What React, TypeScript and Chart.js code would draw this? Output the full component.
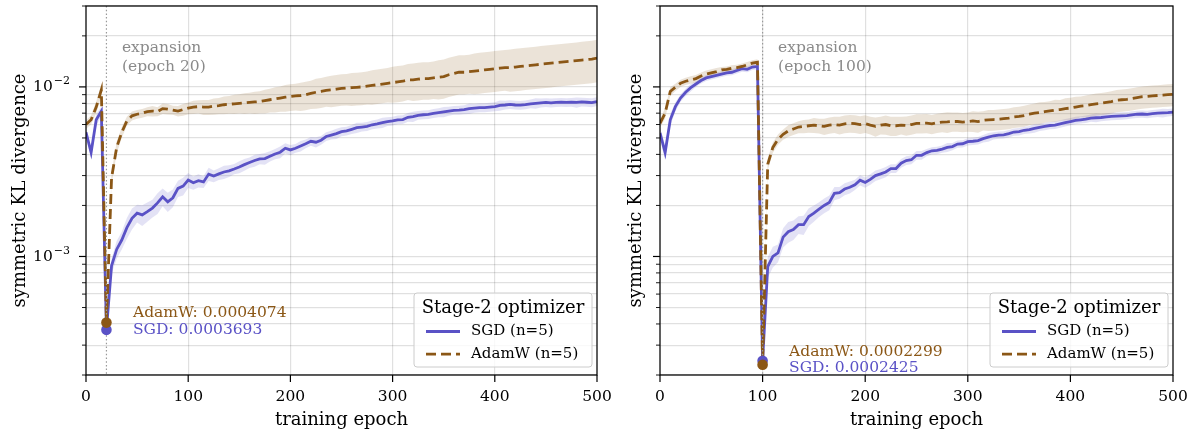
import React, { useEffect, useRef } from "react";
import { Chart, registerables } from "chart.js";

Chart.register(...registerables);

const FONT = "'DejaVu Serif', serif";
const SGD_COLOR = "#5a52c6";
const ADAM_COLOR = "#8b5716";
const SGD_BAND = "rgba(90,82,198,0.17)";
const ADAM_BAND = "rgba(139,87,22,0.17)";
const GRID = "rgba(0,0,0,0.12)";

const EPOCHS = [
  0, 5, 10, 15, 20, 25, 30, 35, 40, 45,
  50, 55, 60, 65, 70, 75, 80, 85, 90, 95,
  100, 105, 110, 115, 120, 125, 130, 135, 140, 145,
  150, 155, 160, 165, 170, 175, 180, 185, 190, 195,
  200, 205, 210, 215, 220, 225, 230, 235, 240, 245,
  250, 255, 260, 265, 270, 275, 280, 285, 290, 295,
  300, 305, 310, 315, 320, 325, 330, 335, 340, 345,
  350, 355, 360, 365, 370, 375, 380, 385, 390, 395,
  400, 405, 410, 415, 420, 425, 430, 435, 440, 445,
  450, 455, 460, 465, 470, 475, 480, 485, 490, 495,
  500,
];

const X_TICKS = [0, 100, 200, 300, 400, 500];
const Y_TICKS = [
  2e-4, 3e-4, 4e-4, 5e-4, 6e-4, 7e-4, 8e-4, 9e-4,
  1e-3, 2e-3, 3e-3, 4e-3, 5e-3, 6e-3, 7e-3, 8e-3, 9e-3,
  1e-2, 2e-2, 3e-2,
];
// major y ticks: value, base text, exponent text
const Y_MAJOR_LABELS: [number, string, string][] = [
  [1e-3, "10", "\u22123"],
  [1e-2, "10", "\u22122"],
];
const Y_MIN = 2e-4;
const Y_MAX = 3e-2;

// ---------- left panel (expansion at epoch 20) ----------
const L_SGD = [
  5.4e-3, 4.1e-3, 6.4e-3, 7.2e-3, 3.693e-4, 8.8e-4, 1.1e-3, 1.25e-3, 1.48e-3, 1.68e-3,
  1.8e-3, 1.76e-3, 1.84e-3, 1.93e-3, 2.07e-3, 2.25e-3, 2.1e-3, 2.22e-3, 2.52e-3, 2.6e-3,
  2.82e-3, 2.72e-3, 2.8e-3, 2.75e-3, 3.06e-3, 2.98e-3, 3.07e-3, 3.15e-3, 3.2e-3, 3.28e-3,
  3.37e-3, 3.48e-3, 3.58e-3, 3.68e-3, 3.76e-3, 3.78e-3, 3.9e-3, 4.02e-3, 4.12e-3, 4.35e-3,
  4.25e-3, 4.35e-3, 4.48e-3, 4.62e-3, 4.78e-3, 4.72e-3, 4.85e-3, 5.1e-3, 5.2e-3, 5.3e-3,
  5.45e-3, 5.5e-3, 5.62e-3, 5.75e-3, 5.8e-3, 5.85e-3, 5.98e-3, 6.05e-3, 6.15e-3, 6.25e-3,
  6.3e-3, 6.4e-3, 6.42e-3, 6.62e-3, 6.68e-3, 6.8e-3, 6.85e-3, 6.88e-3, 6.98e-3, 7.05e-3,
  7.12e-3, 7.2e-3, 7.28e-3, 7.3e-3, 7.35e-3, 7.45e-3, 7.5e-3, 7.55e-3, 7.55e-3, 7.6e-3,
  7.65e-3, 7.78e-3, 7.82e-3, 7.88e-3, 7.82e-3, 7.8e-3, 7.85e-3, 7.95e-3, 8.0e-3, 8.05e-3,
  8.1e-3, 8.05e-3, 8.1e-3, 8.12e-3, 8.1e-3, 8.12e-3, 8.1e-3, 8.15e-3, 8.12e-3, 8.08e-3,
  8.2e-3,
];
const L_ADAM = [
  6.0e-3, 6.4e-3, 7.6e-3, 9.6e-3, 4.074e-4, 2.9e-3, 4.4e-3, 5.4e-3, 6.3e-3, 6.75e-3,
  6.9e-3, 7.0e-3, 7.15e-3, 7.2e-3, 7.15e-3, 7.45e-3, 7.4e-3, 7.3e-3, 7.2e-3, 7.35e-3,
  7.5e-3, 7.6e-3, 7.65e-3, 7.6e-3, 7.6e-3, 7.7e-3, 7.75e-3, 7.85e-3, 7.9e-3, 7.95e-3,
  8.0e-3, 8.05e-3, 8.1e-3, 8.15e-3, 8.2e-3, 8.3e-3, 8.4e-3, 8.5e-3, 8.6e-3, 8.7e-3,
  8.78e-3, 8.85e-3, 8.9e-3, 9.0e-3, 9.15e-3, 9.3e-3, 9.4e-3, 9.55e-3, 9.6e-3, 9.7e-3,
  9.8e-3, 9.85e-3, 9.9e-3, 9.95e-3, 1.0e-2, 1.01e-2, 1.02e-2, 1.03e-2, 1.04e-2, 1.05e-2,
  1.06e-2, 1.07e-2, 1.08e-2, 1.1e-2, 1.1e-2, 1.11e-2, 1.12e-2, 1.12e-2, 1.13e-2, 1.14e-2,
  1.15e-2, 1.18e-2, 1.2e-2, 1.22e-2, 1.22e-2, 1.23e-2, 1.24e-2, 1.25e-2, 1.26e-2, 1.27e-2,
  1.28e-2, 1.29e-2, 1.3e-2, 1.3e-2, 1.31e-2, 1.32e-2, 1.33e-2, 1.34e-2, 1.35e-2, 1.36e-2,
  1.37e-2, 1.38e-2, 1.39e-2, 1.4e-2, 1.41e-2, 1.42e-2, 1.43e-2, 1.44e-2, 1.45e-2, 1.46e-2,
  1.48e-2,
];
// band half-width, percent of the mean
const L_SGD_SPREAD = [
  6, 8, 8, 6, 3, 10, 12, 12, 14, 14,
  12, 14, 13, 12, 14, 12, 13, 12, 11, 12,
  10, 9, 9, 8, 9, 8, 8, 9, 8, 7,
  8, 8, 7, 8, 7, 8, 7, 7, 8, 7,
  7, 6, 7, 6, 6, 7, 6, 6, 6, 7,
  6, 6, 6, 7, 6, 6, 6, 6, 7, 6,
  6, 6, 6, 6, 7, 6, 6, 6, 6, 6,
  7, 6, 6, 6, 6, 7, 6, 6, 6, 6,
  6, 7, 6, 6, 6, 6, 6, 6, 7, 6,
  6, 6, 6, 6, 6, 6, 7, 6, 6, 6,
  6,
];
const L_ADAM_SPREAD = [
  6, 6, 8, 8, 3, 8, 8, 7, 6, 6,
  6, 6, 6, 7, 6, 7, 7, 6, 7, 8,
  8, 9, 9, 10, 10, 11, 11, 12, 12, 13,
  13, 14, 14, 15, 15, 16, 16, 17, 17, 18,
  18, 18, 19, 19, 19, 20, 20, 20, 21, 21,
  21, 21, 22, 22, 22, 22, 23, 23, 23, 23,
  24, 24, 24, 24, 25, 25, 25, 25, 25, 26,
  26, 26, 26, 26, 26, 26, 27, 27, 27, 27,
  27, 27, 27, 28, 28, 28, 28, 28, 28, 28,
  28, 28, 28, 28, 28, 28, 28, 28, 28, 28,
  28,
];

// ---------- right panel (expansion at epoch 100) ----------
const R_SGD = [
  5.35e-3, 4.1e-3, 6.4e-3, 7.65e-3, 8.6e-3, 9.3e-3, 9.9e-3, 1.04e-2, 1.09e-2, 1.13e-2,
  1.15e-2, 1.17e-2, 1.19e-2, 1.21e-2, 1.22e-2, 1.25e-2, 1.28e-2, 1.27e-2, 1.31e-2, 1.32e-2,
  2.425e-4, 8.7e-4, 1.0e-3, 1.05e-3, 1.3e-3, 1.4e-3, 1.44e-3, 1.54e-3, 1.54e-3, 1.72e-3,
  1.8e-3, 1.9e-3, 2.0e-3, 2.08e-3, 2.36e-3, 2.38e-3, 2.5e-3, 2.56e-3, 2.65e-3, 2.82e-3,
  2.73e-3, 2.85e-3, 3.0e-3, 3.07e-3, 3.15e-3, 3.3e-3, 3.3e-3, 3.55e-3, 3.68e-3, 3.72e-3,
  3.95e-3, 3.95e-3, 4.1e-3, 4.2e-3, 4.22e-3, 4.3e-3, 4.4e-3, 4.45e-3, 4.6e-3, 4.62e-3,
  4.75e-3, 4.78e-3, 4.82e-3, 4.95e-3, 5.05e-3, 5.15e-3, 5.2e-3, 5.22e-3, 5.3e-3, 5.42e-3,
  5.45e-3, 5.55e-3, 5.6e-3, 5.7e-3, 5.78e-3, 5.85e-3, 5.92e-3, 5.95e-3, 6.05e-3, 6.15e-3,
  6.25e-3, 6.35e-3, 6.4e-3, 6.45e-3, 6.55e-3, 6.58e-3, 6.6e-3, 6.65e-3, 6.7e-3, 6.72e-3,
  6.75e-3, 6.78e-3, 6.85e-3, 6.9e-3, 6.92e-3, 6.88e-3, 6.95e-3, 7.0e-3, 7.02e-3, 7.05e-3,
  7.1e-3,
];
const R_ADAM = [
  6.1e-3, 7.0e-3, 9.4e-3, 9.95e-3, 1.05e-2, 1.08e-2, 1.1e-2, 1.12e-2, 1.16e-2, 1.19e-2,
  1.21e-2, 1.23e-2, 1.26e-2, 1.27e-2, 1.29e-2, 1.3e-2, 1.32e-2, 1.35e-2, 1.38e-2, 1.4e-2,
  2.299e-4, 3.5e-3, 4.4e-3, 4.9e-3, 5.25e-3, 5.5e-3, 5.65e-3, 5.8e-3, 5.85e-3, 5.9e-3,
  5.95e-3, 5.9e-3, 5.85e-3, 5.95e-3, 6.0e-3, 5.95e-3, 6.05e-3, 6.1e-3, 6.08e-3, 6.0e-3,
  6.08e-3, 5.95e-3, 5.85e-3, 5.95e-3, 6.0e-3, 5.9e-3, 5.9e-3, 5.95e-3, 5.92e-3, 6.0e-3,
  6.1e-3, 6.1e-3, 6.12e-3, 6.05e-3, 6.15e-3, 6.2e-3, 6.22e-3, 6.25e-3, 6.25e-3, 6.2e-3,
  6.25e-3, 6.3e-3, 6.25e-3, 6.35e-3, 6.4e-3, 6.42e-3, 6.45e-3, 6.5e-3, 6.55e-3, 6.65e-3,
  6.7e-3, 6.78e-3, 6.9e-3, 7.0e-3, 7.05e-3, 7.15e-3, 7.22e-3, 7.3e-3, 7.35e-3, 7.45e-3,
  7.5e-3, 7.6e-3, 7.7e-3, 7.75e-3, 7.85e-3, 7.95e-3, 8.0e-3, 8.1e-3, 8.2e-3, 8.35e-3,
  8.4e-3, 8.45e-3, 8.55e-3, 8.65e-3, 8.75e-3, 8.8e-3, 8.85e-3, 8.9e-3, 8.95e-3, 9.0e-3,
  9.05e-3,
];
const R_SGD_SPREAD = [
  8, 10, 8, 6, 5, 5, 5, 4, 4, 4,
  4, 4, 4, 4, 4, 4, 4, 4, 4, 4,
  3, 14, 14, 12, 13, 14, 13, 12, 13, 12,
  11, 10, 10, 10, 9, 8, 8, 8, 7, 7,
  7, 7, 7, 7, 7, 6, 6, 6, 6, 6,
  6, 6, 5, 5, 5, 5, 6, 5, 5, 5,
  5, 5, 5, 5, 6, 5, 5, 5, 5, 5,
  5, 5, 5, 6, 5, 5, 5, 5, 5, 5,
  5, 5, 5, 5, 5, 6, 5, 5, 5, 5,
  5, 5, 5, 5, 5, 5, 5, 5, 6, 5,
  5,
];
const R_ADAM_SPREAD = [
  6, 7, 6, 5, 5, 5, 5, 5, 5, 5,
  5, 5, 4, 4, 4, 4, 4, 4, 4, 4,
  3, 8, 7, 7, 7, 8, 8, 8, 9, 9,
  10, 10, 11, 11, 11, 12, 12, 12, 12, 12,
  12, 12, 13, 12, 13, 13, 13, 12, 13, 13,
  13, 13, 13, 13, 13, 13, 14, 13, 13, 13,
  13, 14, 14, 13, 14, 14, 14, 14, 14, 14,
  14, 14, 14, 14, 15, 14, 14, 15, 14, 15,
  15, 15, 14, 15, 15, 15, 15, 15, 15, 15,
  15, 15, 15, 15, 15, 15, 15, 15, 15, 15,
  15,
];

const L_EXPANSION = 20;
const L_SGD_MIN = 0.0003693;
const L_ADAM_MIN = 0.0004074;
const R_EXPANSION = 100;
const R_SGD_MIN = 0.0002425;
const R_ADAM_MIN = 0.0002299;

const SGD_LABEL = "SGD (n=5)";
const ADAM_LABEL = "AdamW (n=5)";
const LEGEND_TITLE = "Stage-2 optimizer";
const X_TITLE = "training epoch";
const Y_TITLE = "symmetric KL divergence";

const LINE_W = 2.8;
const DASH = [10, 5];

type PanelSpec = {
  left: number;
  width: number;
  yAxisWidth: number;
  padRight: number;
  yTitlePad: number;
  showYLabels: boolean;
  sgd: number[];
  adam: number[];
  sgdSpread: number[];
  adamSpread: number[];
  expansion: number;
  sgdMin: number;
  adamMin: number;
  adamTextDy: number;
  sgdTextDy: number;
};

const PANELS: PanelSpec[] = [
  {
    left: 0, width: 625, yAxisWidth: 86, padRight: 28, yTitlePad: 9.5, showYLabels: true,
    sgd: L_SGD, adam: L_ADAM, sgdSpread: L_SGD_SPREAD, adamSpread: L_ADAM_SPREAD,
    expansion: L_EXPANSION, sgdMin: L_SGD_MIN, adamMin: L_ADAM_MIN,
    adamTextDy: -10, sgdTextDy: 0,
  },
  {
    left: 600, width: 595, yAxisWidth: 60, padRight: 22, yTitlePad: 25.5, showYLabels: false,
    sgd: R_SGD, adam: R_ADAM, sgdSpread: R_SGD_SPREAD, adamSpread: R_ADAM_SPREAD,
    expansion: R_EXPANSION, sgdMin: R_SGD_MIN, adamMin: R_ADAM_MIN,
    adamTextDy: -13, sgdTextDy: 7,
  },
];

function findMajor(v: number) {
  return Y_MAJOR_LABELS.find(([m]) => Math.abs(m - v) / m < 1e-6);
}

function makePlugin(p: PanelSpec) {
  return {
    id: "panelDecor",
    afterDatasetDraw(chart: any, args: any) {
      if (args.index !== 5) return;
      const { ctx, chartArea: a } = chart;
      const px = chart.scales.x.getPixelForValue(p.expansion);
      ctx.save();
      ctx.strokeStyle = "#999999";
      ctx.lineWidth = 1.2;
      ctx.setLineDash([1.5, 2.2]);
      ctx.beginPath();
      ctx.moveTo(px, a.top);
      ctx.lineTo(px, a.bottom);
      ctx.stroke();
      ctx.restore();
    },
    afterDraw(chart: any) {
      const { ctx, chartArea: a } = chart;
      const xs = chart.scales.x;
      const ys = chart.scales.y;
      ctx.save();
      // frame
      ctx.strokeStyle = "#000";
      ctx.lineWidth = 1.25;
      ctx.setLineDash([]);
      ctx.strokeRect(a.left, a.top, a.right - a.left, a.bottom - a.top);
      // y ticks and major labels
      for (const v of Y_TICKS) {
        const y = ys.getPixelForValue(v);
        const major = findMajor(v);
        ctx.strokeStyle = "#000";
        ctx.lineWidth = major ? 1.2 : 0.9;
        ctx.beginPath();
        ctx.moveTo(a.left, y);
        ctx.lineTo(a.left - (major ? 7 : 4), y);
        ctx.stroke();
        if (major && p.showYLabels) {
          const [, base, exp] = major;
          ctx.fillStyle = "#000";
          ctx.textBaseline = "middle";
          ctx.textAlign = "right";
          ctx.font = `11px ${FONT}`;
          const right = a.left - 16;
          const ew = ctx.measureText(exp).width;
          ctx.fillText(exp, right, y - 5.5);
          ctx.font = `15.5px ${FONT}`;
          ctx.fillText(base, right - ew - 1, y);
        }
      }
      // x ticks
      for (const v of X_TICKS) {
        const x = xs.getPixelForValue(v);
        ctx.lineWidth = 1.2;
        ctx.beginPath();
        ctx.moveTo(x, a.bottom);
        ctx.lineTo(x, a.bottom + 7);
        ctx.stroke();
      }
      // expansion annotation
      const px = xs.getPixelForValue(p.expansion);
      ctx.font = `15.5px ${FONT}`;
      ctx.fillStyle = "#8a8a8a";
      ctx.textAlign = "left";
      ctx.textBaseline = "middle";
      ctx.fillText("expansion", px + 15.5, a.top + 42);
      ctx.fillText(`(epoch ${p.expansion})`, px + 15.5, a.top + 61);
      // min labels
      const yA = ys.getPixelForValue(p.adamMin);
      const yS = ys.getPixelForValue(p.sgdMin);
      ctx.fillStyle = ADAM_COLOR;
      ctx.fillText(`AdamW: ${p.adamMin.toFixed(7)}`, px + 26.5, yA + p.adamTextDy);
      ctx.fillStyle = SGD_COLOR;
      ctx.fillText(`SGD: ${p.sgdMin.toFixed(7)}`, px + 26.5, yS + p.sgdTextDy);
      // legend
      const bw = 178, bh = 74;
      const bx = a.right - 5 - bw;
      const by = a.bottom - 8 - bh;
      ctx.beginPath();
      const r = 3;
      ctx.moveTo(bx + r, by);
      ctx.lineTo(bx + bw - r, by);
      ctx.quadraticCurveTo(bx + bw, by, bx + bw, by + r);
      ctx.lineTo(bx + bw, by + bh - r);
      ctx.quadraticCurveTo(bx + bw, by + bh, bx + bw - r, by + bh);
      ctx.lineTo(bx + r, by + bh);
      ctx.quadraticCurveTo(bx, by + bh, bx, by + bh - r);
      ctx.lineTo(bx, by + r);
      ctx.quadraticCurveTo(bx, by, bx + r, by);
      ctx.closePath();
      ctx.fillStyle = "rgba(255,255,255,0.8)";
      ctx.fill();
      ctx.strokeStyle = "#cccccc";
      ctx.lineWidth = 1;
      ctx.stroke();
      ctx.fillStyle = "#000";
      ctx.textAlign = "center";
      ctx.font = `18px ${FONT}`;
      ctx.fillText(LEGEND_TITLE, bx + bw / 2, by + 15);
      const entries: [string, string, number[]][] = [
        [SGD_LABEL, SGD_COLOR, []],
        [ADAM_LABEL, ADAM_COLOR, DASH],
      ];
      entries.forEach(([label, color, dash], i) => {
        const ey = by + 38.5 + i * 22.6;
        ctx.strokeStyle = color;
        ctx.lineWidth = LINE_W;
        ctx.setLineDash(dash);
        ctx.beginPath();
        ctx.moveTo(bx + 12, ey);
        ctx.lineTo(bx + 46, ey);
        ctx.stroke();
        ctx.setLineDash([]);
        ctx.fillStyle = "#000";
        ctx.textAlign = "left";
        ctx.font = `15px ${FONT}`;
        ctx.fillText(label, bx + 57, ey);
      });
      ctx.restore();
    },
  };
}

function buildConfig(p: PanelSpec): any {
  const pts = (vals: number[]) => EPOCHS.map((e, i) => ({ x: e, y: vals[i] }));
  const hi = (vals: number[], s: number[]) => EPOCHS.map((e, i) => ({ x: e, y: vals[i] * (1 + s[i] / 100) }));
  const lo = (vals: number[], s: number[]) => EPOCHS.map((e, i) => ({ x: e, y: vals[i] * (1 - s[i] / 100) }));
  const band = (data: any, fill: any, color: string, order: number) => ({
    type: "line",
    data,
    borderWidth: 0,
    borderColor: "transparent",
    pointRadius: 0,
    fill,
    backgroundColor: color,
    order,
    tension: 0,
  });
  return {
    type: "line",
    data: {
      datasets: [
        band(hi(p.sgd, p.sgdSpread), false, SGD_BAND, 10),
        band(lo(p.sgd, p.sgdSpread), "-1", SGD_BAND, 10),
        band(hi(p.adam, p.adamSpread), false, ADAM_BAND, 9),
        band(lo(p.adam, p.adamSpread), "-1", ADAM_BAND, 9),
        {
          label: SGD_LABEL, data: pts(p.sgd), borderColor: SGD_COLOR, borderWidth: LINE_W,
          pointRadius: 0, fill: false, order: 5, tension: 0,
        },
        {
          label: ADAM_LABEL, data: pts(p.adam), borderColor: ADAM_COLOR, borderWidth: LINE_W,
          borderDash: DASH, pointRadius: 0, fill: false, order: 4, tension: 0,
        },
        {
          label: "sgd-min", data: [{ x: p.expansion, y: p.sgdMin }], showLine: false,
          pointRadius: 5.3, pointBackgroundColor: SGD_COLOR, pointBorderWidth: 0,
          pointBorderColor: SGD_COLOR, order: 2,
        },
        {
          label: "adam-min", data: [{ x: p.expansion, y: p.adamMin }], showLine: false,
          pointRadius: 5.3, pointBackgroundColor: ADAM_COLOR, pointBorderWidth: 0,
          pointBorderColor: ADAM_COLOR, order: 1,
        },
      ],
    },
    options: {
      animation: false,
      responsive: false,
      devicePixelRatio: 1,
      layout: { padding: { left: 0, right: p.padRight, top: 6, bottom: 0 } },
      plugins: { legend: { display: false }, tooltip: { enabled: false } },
      scales: {
        x: {
          type: "linear",
          min: 0,
          max: 500,
          afterBuildTicks: (s: any) => {
            s.ticks = X_TICKS.map((v) => ({ value: v }));
          },
          afterFit: (s: any) => {
            s.height = 58;
            s.paddingLeft = 0;
            s.paddingRight = 0;
            s.paddingTop = 0;
            s.paddingBottom = 0;
          },
          ticks: {
            autoSkip: false,
            maxRotation: 0,
            padding: 13,
            color: "#000",
            font: { family: FONT, size: 15.5 },
            callback: (v: any) => String(v),
          },
          grid: {
            drawTicks: false,
            color: (c: any) => (c.tick && (c.tick.value === 0 || c.tick.value === 500) ? "transparent" : GRID),
            lineWidth: 1.2,
          },
          border: { display: false },
          title: {
            display: true,
            text: X_TITLE,
            color: "#000",
            font: { family: FONT, size: 18 },
            padding: { top: 0, bottom: 2 },
          },
        },
        y: {
          type: "logarithmic",
          min: Y_MIN,
          max: Y_MAX,
          afterBuildTicks: (s: any) => {
            s.ticks = Y_TICKS.map((v) => ({ value: v }));
          },
          afterFit: (s: any) => {
            s.width = p.yAxisWidth;
            s.paddingLeft = 0;
            s.paddingRight = 0;
            s.paddingTop = 0;
            s.paddingBottom = 0;
          },
          ticks: {
            autoSkip: false,
            padding: 16,
            color: "#000",
            font: { family: FONT, size: 15 },
            // major labels (10^-2, 10^-3) are drawn with a raised exponent by the plugin
            callback: () => "",
          },
          grid: { drawTicks: false, color: GRID, lineWidth: 1.2 },
          border: { display: false },
          title: {
            display: true,
            text: Y_TITLE,
            color: "#000",
            font: { family: FONT, size: 18 },
            padding: { top: p.yTitlePad, bottom: 0 },
          },
        },
      },
    },
    plugins: [makePlugin(p)],
  };
}

function Panel({ spec }: { spec: PanelSpec }) {
  const ref = useRef<HTMLCanvasElement>(null);
  useEffect(() => {
    if (!ref.current) return;
    const chart = new Chart(ref.current, buildConfig(spec));
    return () => chart.destroy();
  }, [spec]);
  return (
    <canvas
      ref={ref}
      width={spec.width}
      height={433}
      style={{ position: "absolute", left: spec.left, top: 0, width: spec.width, height: 433 }}
    />
  );
}

export default function App() {
  return (
    <div style={{ position: "fixed", left: 0, top: 0, width: 1195, height: 433, background: "#fff" }}>
      {PANELS.map((p, i) => (
        <Panel key={i} spec={p} />
      ))}
    </div>
  );
}
